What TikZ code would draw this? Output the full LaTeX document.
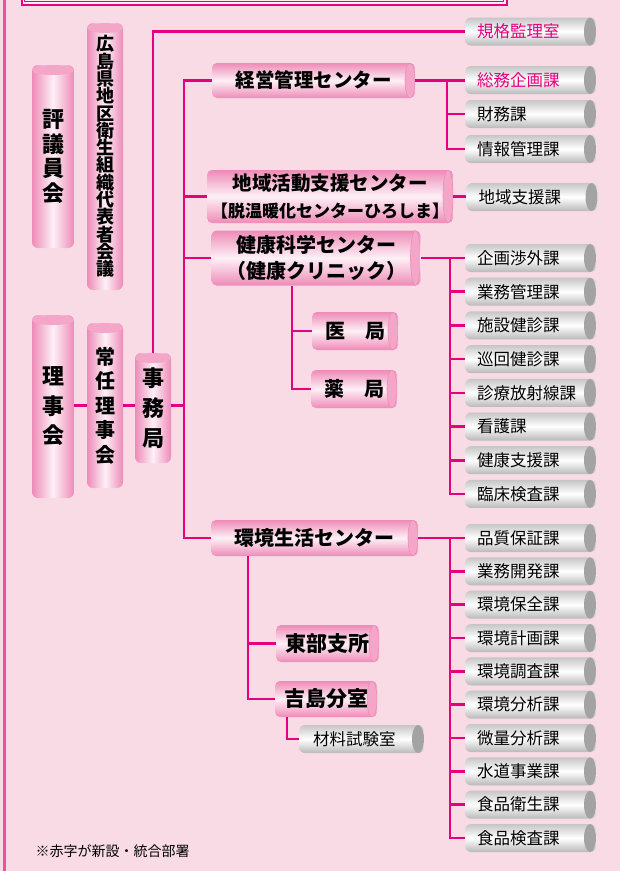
\documentclass[tikz,border=0pt]{standalone}
\usepackage{fontspec}
\setmainfont{Noto Sans CJK JP}
\usepackage{tikz}
\usetikzlibrary{calc}
\definecolor{bgPink}{HTML}{F9DBE6}
\definecolor{lineMag}{HTML}{E4007F}
\definecolor{edgePink}{HTML}{E8559B}
\definecolor{nodePink}{HTML}{EE8BB7}
\definecolor{nodeLight}{HTML}{FDF0F6}
\definecolor{capPink}{HTML}{F3A6C8}
\definecolor{capGray}{HTML}{A3A3A3}
\definecolor{textRed}{HTML}{E4007F}
\tikzset{lineOrg/.style={draw=lineMag, line width=2.6pt}}
\tikzset{boxCenter/.style={rounded corners=5pt, top color=nodePink, bottom color=nodePink, middle color=nodeLight, inner sep=0pt, align=center,
  path picture={\filldraw[fill=capPink, draw=nodePink, line width=0.6pt] let \p1=(path picture bounding box.north east), \p2=(path picture bounding box.south east) in ($(\p1)!0.5!(\p2)+(-5pt,0)$) ellipse [x radius=5pt, y radius={0.5*(\y1-\y2)}];}}}
\tikzset{boxSection/.style={rounded corners=6pt, top color=gray!45, bottom color=gray!55, middle color=white, minimum height=28pt, text width=107pt, inner xsep=12pt, inner ysep=0pt, align=left, font=\fontsize{16.5}{18}\selectfont,
  path picture={\fill[capGray] let \p1=(path picture bounding box.north east), \p2=(path picture bounding box.south east) in ($(\p1)!0.5!(\p2)+(-6pt,0)$) ellipse [x radius=6pt, y radius={0.5*(\y1-\y2)}];}}}
\tikzset{boxColumn/.style={rounded corners=6pt, left color=nodePink, right color=nodePink, middle color=nodeLight, inner sep=0pt, align=center,
  path picture={\fill[capPink] let \p1=(path picture bounding box.north west), \p2=(path picture bounding box.north east) in ($(\p1)!0.5!(\p2)+(0,-5pt)$) ellipse [x radius={0.5*(\x2-\x1)}, y radius=5pt];}}}

\begin{document}
\begin{tikzpicture}[x=1pt,y=-1pt]

\useasboundingbox (0,0) rectangle (620,871);
\fill[bgPink] (0,0) rectangle (620,871);
\fill[white!50!bgPink] (21.5,-5) rectangle (506.5,4.5);
\draw[lineMag, line width=2pt] (21.5,-5) rectangle (506.5,4.5);
\draw[lineMag, line width=1pt] (24.5,-5) rectangle (503.5,1);
\draw[edgePink, line width=3pt] (4,-5) -- (4,876);

% left column
\node[boxColumn, minimum width=42pt, minimum height=183pt, font=\bfseries\fontsize{22}{24.7}\selectfont] (hyogi) at (53,156.5) {評\\議\\員\\会};
\node[boxColumn, minimum width=36pt, minimum height=267pt, font=\bfseries\fontsize{18}{17.3}\selectfont] (daihyo) at (105,156.5) {広\\島\\県\\地\\区\\衛\\生\\組\\織\\代\\表\\者\\会\\議};
\node[boxColumn, minimum width=42pt, minimum height=183pt, font=\bfseries\fontsize{22}{29.5}\selectfont] (riji) at (53,406.5) {理\\事\\会};
\node[boxColumn, minimum width=36pt, minimum height=165pt, font=\bfseries\fontsize{20}{24.5}\selectfont] (jonin) at (105,405.5) {常\\任\\理\\事\\会};
\node[boxColumn, minimum width=36pt, minimum height=110pt, font=\bfseries\fontsize{22}{30}\selectfont] (jimu) at (153,408) {事\\務\\局};

% centers
\node[boxCenter, minimum width=203pt, minimum height=35pt, font=\bfseries\fontsize{19.5}{24}\selectfont] (keiei) at (313.5,80.5) {経営管理センター};
\node[boxCenter, minimum width=246pt, minimum height=53pt, font=\bfseries\fontsize{19.5}{27}\selectfont] (chiiki) at (330,196.5) {地域活動支援センター\\{\fontsize{17}{27}\selectfont【脱温暖化センターひろしま】}};
\node[boxCenter, minimum width=209pt, minimum height=55pt, font=\bfseries\fontsize{20}{26}\selectfont] (kenko) at (316,258) {健康科学センター\\（健康クリニック）};
\node[boxCenter, minimum width=86pt, minimum height=38pt, font=\bfseries\fontsize{20}{24}\selectfont] (ikyoku) at (355,331) {医　局};
\node[boxCenter, minimum width=86pt, minimum height=38pt, font=\bfseries\fontsize{20}{24}\selectfont] (yakkyoku) at (354,389) {薬　局};
\node[boxCenter, minimum width=207pt, minimum height=36pt, font=\bfseries\fontsize{20}{24}\selectfont] (kankyo) at (314.5,538) {環境生活センター};
\node[boxCenter, minimum width=103pt, minimum height=37pt, font=\bfseries\fontsize{21}{24}\selectfont] (tobu) at (327.5,643.5) {東部支所};
\node[boxCenter, minimum width=102pt, minimum height=36pt, font=\bfseries\fontsize{21}{24}\selectfont] (yoshijima) at (326,699) {吉島分室};
\node[boxSection, text width=97pt, inner xsep=14pt] (zairyo) at (361.5,739) {材料試験室};

% sections
\node[boxSection, text=textRed] (kikaku) at (530.5,31.5) {規格監理室};
\node[boxSection, text=textRed] (somu) at (530.5,80) {総務企画課};
\node[boxSection] (zaimu) at (530.5,114) {財務課};
\node[boxSection] (joho) at (530.5,149) {情報管理課};
\node[boxSection] (shien) at (532,197) {地域支援課};

\node[boxSection] (shogai) at (530.5,258) {企画渉外課};
\node[boxSection] (gyokan) at (530.5,291.7) {業務管理課};
\node[boxSection] (shisetsu) at (530.5,325.4) {施設健診課};
\node[boxSection] (junkai) at (530.5,359.1) {巡回健診課};
\node[boxSection] (hoshasen) at (530.5,392.8) {診療放射線課};
\node[boxSection] (kango) at (530.5,426.5) {看護課};
\node[boxSection] (kenshien) at (530.5,460.2) {健康支援課};
\node[boxSection] (rinsho) at (530.5,493.9) {臨床検査課};

\node[boxSection] (hinshitsu) at (530.5,538) {品質保証課};
\node[boxSection] (kaihatsu) at (530.5,571.3) {業務開発課};
\node[boxSection] (hozen) at (530.5,604.7) {環境保全課};
\node[boxSection] (keikaku) at (530.5,638) {環境計画課};
\node[boxSection] (chosa) at (530.5,671.3) {環境調査課};
\node[boxSection] (bunseki) at (530.5,704.7) {環境分析課};
\node[boxSection] (biryo) at (530.5,738) {微量分析課};
\node[boxSection] (suido) at (530.5,771.3) {水道事業課};
\node[boxSection] (shokuei) at (530.5,804.7) {食品衛生課};
\node[boxSection] (shokuken) at (530.5,838) {食品検査課};

\node[anchor=west, font=\fontsize{14}{16}\selectfont] (note) at (32,851) {※赤字が新設・統合部署};

% connectors
\coordinate (busMain) at (184,0);
\coordinate (busKeiei) at (447,0);
\coordinate (busKenko) at (450,0);
\coordinate (busKankyo) at (450,0);
\coordinate (busClinic) at (292,0);
\coordinate (busBranch) at (248,0);
\coordinate (busLab) at (287,0);

\draw[lineOrg] (riji.east |- jonin.west) -- (jonin.west);
\draw[lineOrg] (jonin.east) -- (jimu.west |- jonin.east);
\draw[lineOrg] (jimu.east |- jonin.east) -- (busMain |- jonin.east);
\draw[lineOrg] (jimu.north) |- (kikaku.west);
\draw[lineOrg] (keiei.west) -| (busMain |- kankyo.west) -- (kankyo.west);
\draw[lineOrg] (chiiki.west) -- (busMain |- chiiki.west);
\draw[lineOrg] (kenko.west) -- (busMain |- kenko.west);

\draw[lineOrg] (keiei.east) -- (somu.west |- keiei.east);
\draw[lineOrg] (busKeiei |- keiei.east) |- (joho.west);
\draw[lineOrg] (busKeiei |- zaimu.west) -- (zaimu.west);
\draw[lineOrg] (chiiki.east) -- (shien.west |- chiiki.east);

\draw[lineOrg] (kenko.east) -- (shogai.west);
\draw[lineOrg] (busKenko |- kenko.east) |- (rinsho.west);
\draw[lineOrg] (busKenko |- gyokan.west) -- (gyokan.west);
\draw[lineOrg] (busKenko |- shisetsu.west) -- (shisetsu.west);
\draw[lineOrg] (busKenko |- junkai.west) -- (junkai.west);
\draw[lineOrg] (busKenko |- hoshasen.west) -- (hoshasen.west);
\draw[lineOrg] (busKenko |- kango.west) -- (kango.west);
\draw[lineOrg] (busKenko |- kenshien.west) -- (kenshien.west);
\draw[lineOrg] (kenko.south -| busClinic) |- (yakkyoku.west);
\draw[lineOrg] (busClinic |- ikyoku.west) -- (ikyoku.west);

\draw[lineOrg] (kankyo.east) -- (hinshitsu.west);
\draw[lineOrg] (busKankyo |- kankyo.east) |- (shokuken.west);
\draw[lineOrg] (busKankyo |- kaihatsu.west) -- (kaihatsu.west);
\draw[lineOrg] (busKankyo |- hozen.west) -- (hozen.west);
\draw[lineOrg] (busKankyo |- keikaku.west) -- (keikaku.west);
\draw[lineOrg] (busKankyo |- chosa.west) -- (chosa.west);
\draw[lineOrg] (busKankyo |- bunseki.west) -- (bunseki.west);
\draw[lineOrg] (busKankyo |- biryo.west) -- (biryo.west);
\draw[lineOrg] (busKankyo |- suido.west) -- (suido.west);
\draw[lineOrg] (busKankyo |- shokuei.west) -- (shokuei.west);
\draw[lineOrg] (kankyo.south -| busBranch) |- (yoshijima.west);
\draw[lineOrg] (busBranch |- tobu.west) -- (tobu.west);
\draw[lineOrg] (yoshijima.south -| busLab) |- (zairyo.west);

\end{tikzpicture}
\end{document}
